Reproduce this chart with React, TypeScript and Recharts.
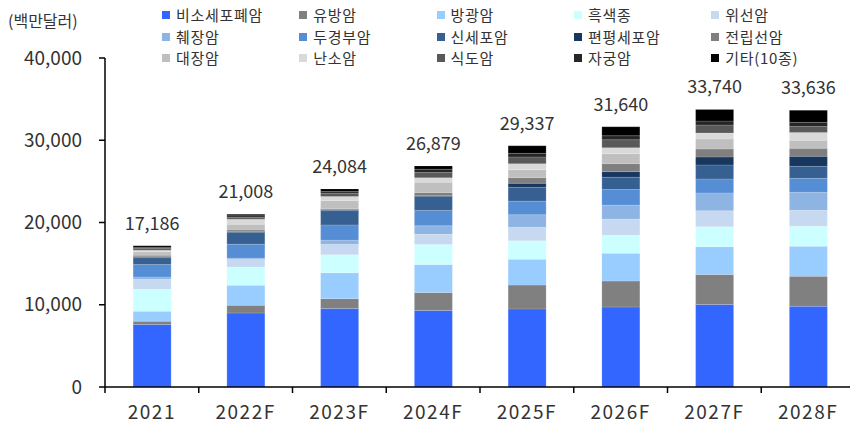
import { BarChart, Bar, XAxis, YAxis, LabelList } from 'recharts';

const years = ['2021', '2022F', '2023F', '2024F', '2025F', '2026F', '2027F', '2028F'];
const totals = [17186, 21008, 24084, 26879, 29337, 31640, 33740, 33636];

// stacked bottom -> top, 백만달러
const nsclc = [7600, 9000, 9534, 9304, 9497, 9730, 10040, 9811];
const breast = [400, 930, 1210, 2190, 2900, 3150, 3630, 3650];
const bladder = [1220, 2430, 3150, 3410, 3150, 3390, 3390, 3650];
const melanoma = [2660, 2220, 2180, 2430, 2220, 2180, 2420, 2430];
const gastric = [1220, 930, 1290, 1260, 1650, 1970, 1940, 1940];
const pancreatic = [280, 150, 485, 1010, 1530, 1690, 2180, 2190];
const headNeck = [1500, 1700, 1860, 1870, 1650, 1900, 1700, 1700];
const renal = [850, 1420, 1740, 1700, 1690, 1490, 1700, 1460];
const squamous = [100, 120, 100, 100, 480, 690, 970, 1215];
const prostate = [200, 200, 160, 365, 690, 970, 970, 970];
const colorectal = [400, 690, 970, 1260, 970, 1210, 1210, 970];
const ovarian = [200, 620, 485, 530, 730, 730, 730, 970];
const esophageal = [200, 200, 400, 650, 810, 970, 970, 730];
const cervical = [150, 200, 200, 400, 440, 480, 480, 490];
const others = [200, 200, 320, 400, 930, 1090, 1410, 1460];

const yTicks = [0, 10000, 20000, 30000, 40000];

const SERIES = [
  { key: 'nsclc', name: '비소세포폐암', values: nsclc, color: '#3366FF' },
  { key: 'breast', name: '유방암', values: breast, color: '#808080' },
  { key: 'bladder', name: '방광암', values: bladder, color: '#99CCFF' },
  { key: 'melanoma', name: '흑색종', values: melanoma, color: '#CCFFFF' },
  { key: 'gastric', name: '위선암', values: gastric, color: '#C6D9F1' },
  { key: 'pancreatic', name: '췌장암', values: pancreatic, color: '#8DB4E2' },
  { key: 'headNeck', name: '두경부암', values: headNeck, color: '#558ED5' },
  { key: 'renal', name: '신세포암', values: renal, color: '#376092' },
  { key: 'squamous', name: '편평세포암', values: squamous, color: '#17375E' },
  { key: 'prostate', name: '전립선암', values: prostate, color: '#7F7F7F' },
  { key: 'colorectal', name: '대장암', values: colorectal, color: '#BFBFBF' },
  { key: 'ovarian', name: '난소암', values: ovarian, color: '#D9D9D9' },
  { key: 'esophageal', name: '식도암', values: esophageal, color: '#595959' },
  { key: 'cervical', name: '자궁암', values: cervical, color: '#262626' },
  { key: 'others', name: '기타(10종)', values: others, color: '#000000' },
];

const rows = years.map((year, i) => {
  const row: Record<string, string | number> = { year, total: totals[i] };
  SERIES.forEach((s) => {
    row[s.key] = s.values[i];
  });
  return row;
});

const FONT = '"Noto Sans CJK KR", "Noto Sans", sans-serif';
const CHART_W = 860;
const PLOT_LEFT = 105;
const PLOT_RIGHT = 855;
const BAND = (PLOT_RIGHT - PLOT_LEFT) / years.length;

const fmt = (v: number) => v.toLocaleString('en-US');

// category label in the middle, tick mark on the boundary between categories
const XTick = (props: any) => {
  const { x, y, payload, index } = props;
  return (
    <g>
      {index === 0 && (
        <line x1={x - BAND / 2} y1={y} x2={x - BAND / 2} y2={y + 6} stroke="#000" strokeWidth={1.5} />
      )}
      <line x1={x + BAND / 2} y1={y} x2={x + BAND / 2} y2={y + 6} stroke="#000" strokeWidth={1.5} />
      <text x={x} y={y + 32} textAnchor="middle" fontSize={19} fill="#333" letterSpacing={1.5}>
        {payload.value}
      </text>
    </g>
  );
};

const TotalLabel = (props: any) => {
  const { x, y, width, value } = props;
  return (
    <text x={x + width / 2} y={y - 16} textAnchor="middle" fontSize={18} fill="#333">
      {fmt(Number(value))}
    </text>
  );
};

function TopLegend() {
  return (
    <>
      {SERIES.map((s, i) => {
        const col = i % 5;
        const row = Math.floor(i / 5);
        return (
          <div
            key={s.key}
            style={{
              position: 'absolute',
              left: 162 + col * 137.3,
              top: 5 + row * 21.7,
              height: 20,
              lineHeight: '20px',
              display: 'flex',
              alignItems: 'center',
              fontSize: 15,
              letterSpacing: 0.7,
              color: '#333',
              whiteSpace: 'nowrap',
            }}
          >
            <span style={{ width: 8, height: 8, background: s.color, display: 'inline-block', marginRight: 6 }} />
            {s.name}
          </div>
        );
      })}
    </>
  );
}

export default function App() {
  return (
    <div
      style={{
        position: 'fixed',
        left: 0,
        top: 0,
        width: 850,
        height: 425,
        overflow: 'hidden',
        background: '#fff',
        fontFamily: FONT,
      }}
    >
      <div style={{ position: 'absolute', left: 8, top: 10, fontSize: 16, lineHeight: '20px', color: '#333' }}>
        (백만달러)
      </div>
      <TopLegend />
      <BarChart
        width={CHART_W}
        height={425}
        data={rows}
        margin={{ top: 58, right: CHART_W - PLOT_RIGHT, bottom: 0, left: 0 }}
        barCategoryGap="30%"
      >
        <XAxis
          dataKey="year"
          height={38}
          axisLine={{ stroke: '#000', strokeWidth: 1.5 }}
          tickLine={false}
          tickSize={0}
          tickMargin={0}
          tick={<XTick />}
          interval={0}
        />
        <YAxis
          width={PLOT_LEFT}
          domain={[0, 40000]}
          ticks={yTicks}
          tickFormatter={fmt}
          axisLine={{ stroke: '#000', strokeWidth: 1.5 }}
          tickLine={{ stroke: '#000', strokeWidth: 1.5 }}
          tickSize={6}
          tickMargin={17}
          tick={{ fontSize: 19, fill: '#333' }}
        />
        {SERIES.map((s, i) => (
          <Bar
            key={s.key}
            dataKey={s.key}
            name={s.name}
            stackId="a"
            fill={s.color}
            stroke="#ffffff"
            strokeOpacity={0.25}
            strokeWidth={0.6}
            isAnimationActive={false}
          >
            {i === SERIES.length - 1 && <LabelList dataKey="total" content={<TotalLabel />} />}
          </Bar>
        ))}
      </BarChart>
    </div>
  );
}
